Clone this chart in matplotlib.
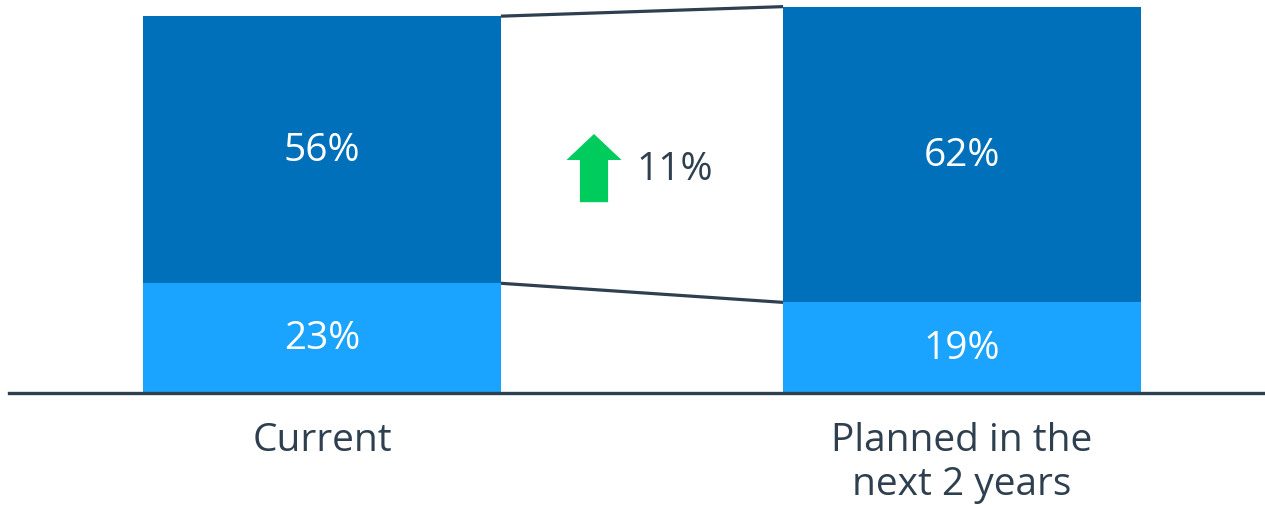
import matplotlib
matplotlib.use("Agg")
import matplotlib.pyplot as plt
from matplotlib.patches import FancyArrow

# Data
categories = ["Current", "Planned in the\nnext 2 years"]
lower_share = [23, 19]   # light segment (%)
upper_share = [56, 62]   # dark segment (%)

# Relative change of the upper segment
change_pct = round((upper_share[1] / upper_share[0] - 1) * 100)

DARK = "#0070BA"
LIGHT = "#1AA3FF"
TEXT = "#2E3F4F"
GREEN = "#00CC5E"
FS = 28

plt.rcParams["font.family"] = ["Open Sans", "DejaVu Sans"]

fig = plt.figure(figsize=(12.65, 5.06), dpi=100)
ax = fig.add_axes([0, 112 / 506, 1, 394 / 506])

x = [0, 1]
width = 0.559
ax.bar(x, lower_share, width=width, color=LIGHT, zorder=2)
ax.bar(x, upper_share, width=width, bottom=lower_share, color=DARK, zorder=2)

# Segment labels
for xi, lo, up in zip(x, lower_share, upper_share):
    ax.text(xi, lo / 2, f"{lo}%", ha="center", va="center",
            color="white", fontsize=FS, zorder=3)
    ax.text(xi, lo + up / 2, f"{up}%", ha="center", va="center",
            color="white", fontsize=FS, zorder=3)

# Connector lines between the two bars
totals = [lo + up for lo, up in zip(lower_share, upper_share)]
x_left, x_right = x[0] + width / 2, x[1] - width / 2
ax.plot([x_left, x_right], totals, color=TEXT, lw=2.3, zorder=1,
        solid_capstyle="butt", clip_on=False)
ax.plot([x_left, x_right], lower_share, color=TEXT, lw=2.3, zorder=1,
        solid_capstyle="butt")

# Up arrow with change label
ax.add_patch(FancyArrow(0.425, 40.0, 0, 14.3, width=0.044, head_width=0.086,
                        head_length=5.45, length_includes_head=True,
                        color=GREEN, lw=0, zorder=3))
ax.text(0.492, 47.0, f"{change_pct}%", ha="left", va="center",
        color=TEXT, fontsize=FS)

# Baseline
ax.axhline(0, xmin=9 / 1265, xmax=1, color=TEXT, lw=2.4, zorder=4,
           clip_on=False)

ax.set_xlim(-322 / 640, (1265 - 322) / 640)
ax.set_ylim(0, 394 / 4.77)
ax.set_xticks(x, categories)
ax.tick_params(axis="x", length=0, pad=20, labelsize=FS, labelcolor=TEXT)
for lbl in ax.get_xticklabels():
    lbl.set_linespacing(1.2)
ax.set_yticks([])
for s in ax.spines.values():
    s.set_visible(False)

fig.savefig("out.png", dpi=100)
